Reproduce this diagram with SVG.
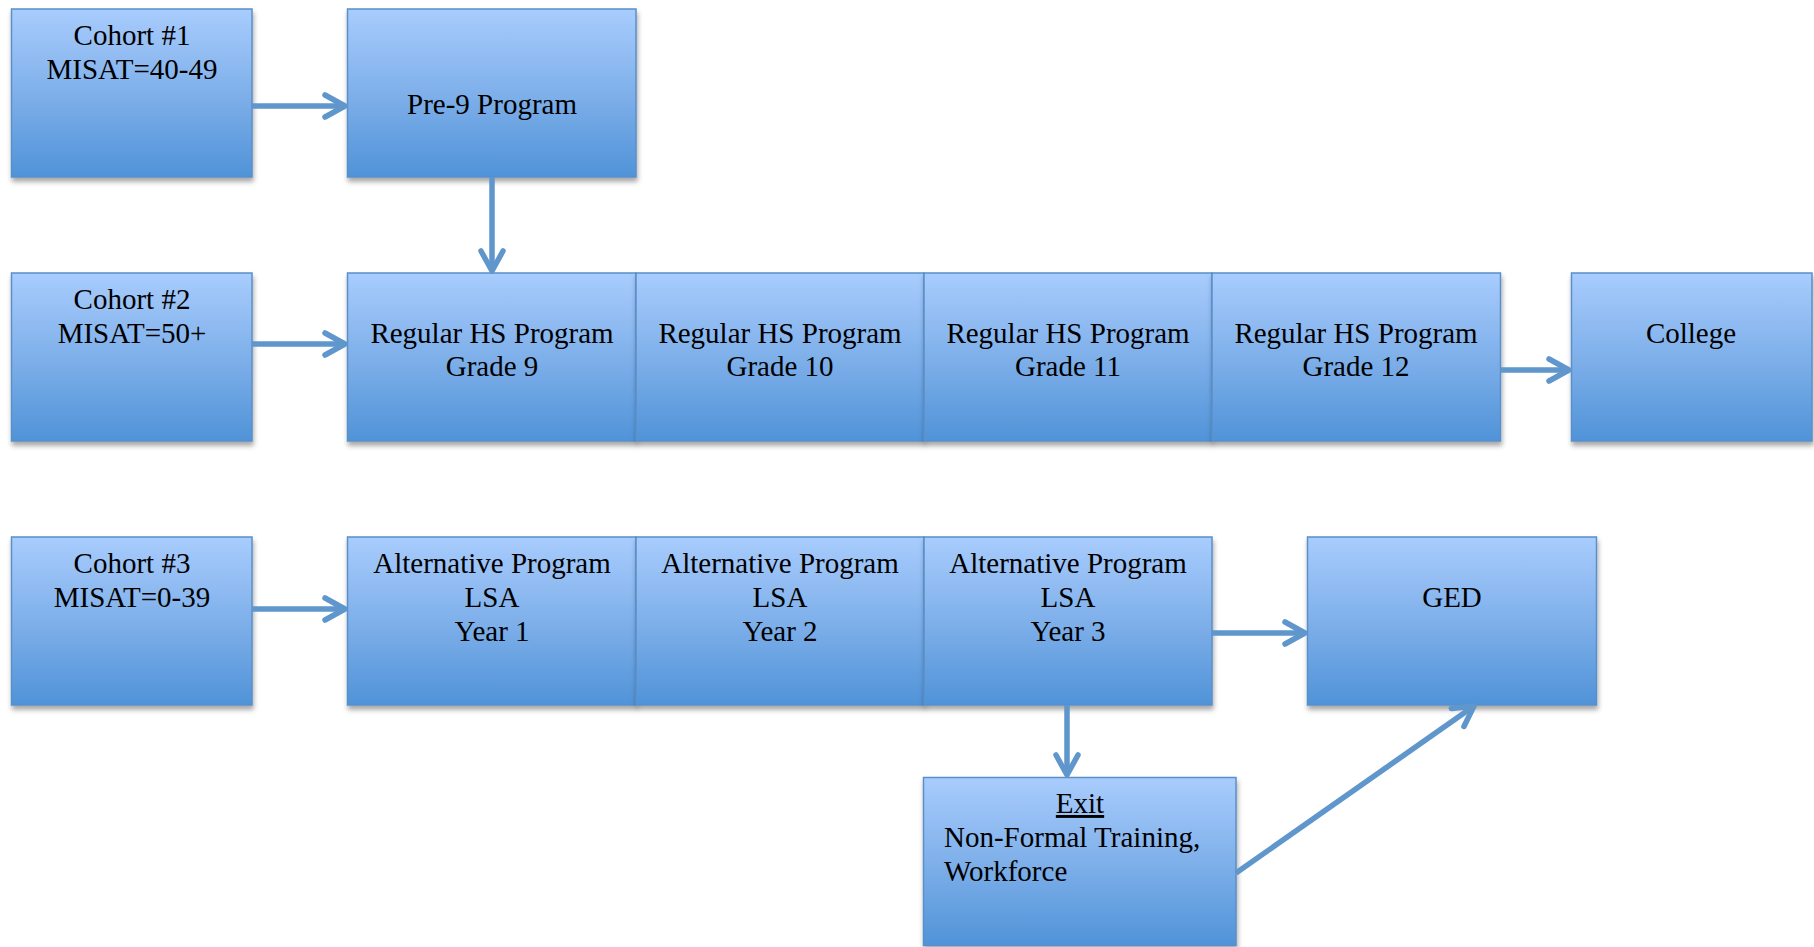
<svg xmlns="http://www.w3.org/2000/svg" width="1814" height="947" viewBox="0 0 1814 947">
  <defs>
    <linearGradient id="boxFill" x1="0" y1="0" x2="0" y2="1">
      <stop offset="0" stop-color="#a9ccfd"/>
      <stop offset="0.5" stop-color="#7fb0ea"/>
      <stop offset="1" stop-color="#5093d8"/>
    </linearGradient>
    <filter id="shadow" x="-10%" y="-10%" width="125%" height="130%">
      <feDropShadow dx="1" dy="4" stdDeviation="2.5" flood-color="#000" flood-opacity="0.35"/>
    </filter>
    <marker id="chevron" viewBox="-24 -14 28 28" refX="0" refY="0" markerWidth="28" markerHeight="28" markerUnits="userSpaceOnUse" orient="auto">
      <polyline points="-20,-11 0,0 -20,11" fill="none" stroke="#5f96cc" stroke-width="5.5" stroke-linecap="round" stroke-linejoin="round"/>
    </marker>
  </defs>
  <style>
    .box { fill: url(#boxFill); stroke: #5a8fc9; stroke-width: 1.5; filter: url(#shadow); }
    .lbl { font-family: "Liberation Serif", "Times New Roman", serif; font-size: 29px; fill: #000; text-anchor: middle; }
    .lft { text-anchor: start; }
    .conn { fill: none; stroke: #5f96cc; stroke-width: 5.5; marker-end: url(#chevron); }
  </style>
  <rect width="1814" height="947" fill="#fff"/>

  <!-- Row 1 -->
  <g id="cohort1">
    <rect class="box" x="11.5" y="9" width="240.5" height="168"/>
    <text class="lbl" x="132" y="45">Cohort #1</text>
    <text class="lbl" x="132" y="79">MISAT=40-49</text>
  </g>
  <g id="pre9">
    <rect class="box" x="347.5" y="9" width="288.5" height="168"/>
    <text class="lbl" x="492" y="114">Pre-9 Program</text>
  </g>

  <!-- Row 2 -->
  <g id="cohort2">
    <rect class="box" x="11.5" y="273" width="240.5" height="168"/>
    <text class="lbl" x="132" y="309">Cohort #2</text>
    <text class="lbl" x="132" y="343">MISAT=50+</text>
  </g>
  <g id="grade9">
    <rect class="box" x="347.5" y="273" width="288.5" height="168"/>
    <text class="lbl" x="492" y="343">Regular HS Program</text>
    <text class="lbl" x="492" y="376">Grade 9</text>
  </g>
  <g id="grade10">
    <rect class="box" x="636" y="273" width="288" height="168"/>
    <text class="lbl" x="780" y="343">Regular HS Program</text>
    <text class="lbl" x="780" y="376">Grade 10</text>
  </g>
  <g id="grade11">
    <rect class="box" x="924" y="273" width="288" height="168"/>
    <text class="lbl" x="1068" y="343">Regular HS Program</text>
    <text class="lbl" x="1068" y="376">Grade 11</text>
  </g>
  <g id="grade12">
    <rect class="box" x="1212" y="273" width="288.5" height="168"/>
    <text class="lbl" x="1356" y="343">Regular HS Program</text>
    <text class="lbl" x="1356" y="376">Grade 12</text>
  </g>
  <g id="college">
    <rect class="box" x="1571.5" y="273" width="240.5" height="168"/>
    <text class="lbl" x="1691" y="343">College</text>
  </g>

  <!-- Row 3 -->
  <g id="cohort3">
    <rect class="box" x="11.5" y="537" width="240.5" height="168"/>
    <text class="lbl" x="132" y="573">Cohort #3</text>
    <text class="lbl" x="132" y="607">MISAT=0-39</text>
  </g>
  <g id="alt1">
    <rect class="box" x="347.5" y="537" width="288.5" height="168"/>
    <text class="lbl" x="492" y="573">Alternative Program</text>
    <text class="lbl" x="492" y="607">LSA</text>
    <text class="lbl" x="492" y="641">Year 1</text>
  </g>
  <g id="alt2">
    <rect class="box" x="636" y="537" width="288" height="168"/>
    <text class="lbl" x="780" y="573">Alternative Program</text>
    <text class="lbl" x="780" y="607">LSA</text>
    <text class="lbl" x="780" y="641">Year 2</text>
  </g>
  <g id="alt3">
    <rect class="box" x="924" y="537" width="288" height="168"/>
    <text class="lbl" x="1068" y="573">Alternative Program</text>
    <text class="lbl" x="1068" y="607">LSA</text>
    <text class="lbl" x="1068" y="641">Year 3</text>
  </g>
  <g id="ged">
    <rect class="box" x="1307.5" y="537" width="289" height="168"/>
    <text class="lbl" x="1452" y="607">GED</text>
  </g>

  <!-- Exit -->
  <g id="exit">
    <rect class="box" x="923.5" y="777.5" width="312.5" height="168"/>
    <text class="lbl" x="1080" y="813" text-decoration="underline">Exit</text>
    <text class="lbl lft" x="944" y="847">Non-Formal Training,</text>
    <text class="lbl lft" x="944" y="881">Workforce</text>
  </g>

  <!-- Connectors -->
  <g id="connectors">
    <path class="conn" d="M252 106 H345"/>
    <path class="conn" d="M492 177 V271"/>
    <path class="conn" d="M252 344 H345"/>
    <path class="conn" d="M1500.5 370 H1569"/>
    <path class="conn" d="M252 609 H345"/>
    <path class="conn" d="M1212 633 H1305"/>
    <path class="conn" d="M1067 705 V775"/>
    <path class="conn" d="M1236 873 L1474 706"/>
  </g>
</svg>
